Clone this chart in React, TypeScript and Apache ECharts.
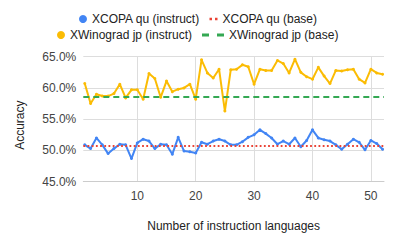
import React, { useEffect, useRef } from "react";
import * as echarts from "echarts";

const languageCounts = [
  1, 2, 3, 4, 5, 6, 7, 8, 9, 10, 11, 12, 13, 14, 15, 16, 17, 18, 19, 20, 21, 22, 23, 24, 25, 26,
  27, 28, 29, 30, 31, 32, 33, 34, 35, 36, 37, 38, 39, 40, 41, 42, 43, 44, 45, 46, 47, 48, 49, 50, 51, 52,
];

const xcopaInstruct = [
  50.9, 50.3, 52.0, 50.9, 49.5, 50.3, 51.0, 50.9, 48.7, 51.2, 51.8, 51.5, 50.3, 51.0, 50.9, 49.4, 52.1,
  49.9, 49.8, 49.6, 51.3, 51.0, 51.5, 51.8, 51.5, 50.9, 50.9, 51.4, 52.1, 52.5, 53.3, 52.7, 52.0, 51.0,
  51.5, 51.0, 52.0, 50.6, 51.6, 53.3, 52.0, 51.7, 51.5, 50.9, 50.2, 51.0, 51.8, 51.3, 50.1, 51.6, 51.1, 50.2,
];

const xwinogradInstruct = [
  60.7, 57.5, 59.0, 58.7, 58.7, 59.1, 60.6, 58.4, 59.7, 59.7, 58.2, 62.3, 61.5, 58.5, 61.1, 59.4, 59.8,
  60.0, 60.6, 58.2, 64.5, 62.4, 61.6, 63.0, 56.3, 62.9, 63.0, 63.7, 63.4, 60.6, 63.0, 62.8, 62.8, 64.4,
  63.9, 62.4, 64.6, 62.5, 61.8, 61.4, 63.3, 61.9, 60.7, 62.8, 62.7, 62.9, 63.0, 61.4, 60.8, 63.0, 62.4, 62.2,
];

const xcopaBase = 50.8;
const xwinogradBase = 58.6;

const yTicks = { min: 45, max: 65, interval: 5 };

const FONT = "'Liberation Sans', Arial, sans-serif";

export default function App() {
  const ref = useRef<HTMLDivElement>(null);

  useEffect(() => {
    if (!ref.current) return;
    const chart = echarts.init(ref.current, undefined, { renderer: "svg" });

    const pairs = (ys: number[]) => languageCounts.map((x, i) => [x, ys[i]]);

    const legendText = { fontFamily: FONT, fontSize: 12, color: "#222" };

    chart.setOption({
      animation: false,
      textStyle: { fontFamily: FONT },
      grid: { left: 83.3, right: 12, top: 56.7, bottom: 63.3, containLabel: false },
      legend: [
        {
          data: [{ name: "XCOPA qu (instruct)", icon: "circle" }],
          left: 79, top: 13, padding: 0, itemWidth: 8, itemHeight: 8, textStyle: legendText,
        },
        {
          data: [{ name: "XCOPA qu (base)", icon: "path://M0,0h2.5v2.5h-2.5zM5.5,0h2.5v2.5h-2.5z" }],
          left: 209.5, top: 13, padding: 0, itemWidth: 8, itemHeight: 8, textStyle: legendText,
        },
        {
          data: [{ name: "XWinograd jp (instruct)", icon: "circle" }],
          left: 57, top: 29, padding: 0, itemWidth: 8, itemHeight: 8, textStyle: legendText,
        },
        {
          data: [{ name: "XWinograd jp (base)", icon: "path://M0,0h7v3h-7zM15,0h7v3h-7z" }],
          left: 202, top: 29, padding: 0, itemWidth: 22, itemHeight: 8, textStyle: legendText,
        },
      ],
      xAxis: {
        type: "value",
        min: 0.75,
        max: 52.25,
        minInterval: 10,
        maxInterval: 10,
        name: "Number of instruction languages",
        nameLocation: "middle",
        nameGap: 38,
        nameTextStyle: { fontFamily: FONT, fontSize: 12, color: "#222" },
        axisLine: { show: true, lineStyle: { color: "#ccc", width: 1 } },
        axisTick: { show: false },
        axisLabel: {
          fontFamily: FONT,
          fontSize: 12,
          color: "#444",
          margin: 8,
          showMinLabel: false,
          showMaxLabel: false,
          formatter: (v: number) => (Math.abs(v % 10) < 1e-6 ? String(v) : ""),
        },
        splitLine: { show: true, showMinLine: false, showMaxLine: false, lineStyle: { color: "#ddd", width: 1 } },
      },
      yAxis: {
        type: "value",
        min: yTicks.min,
        max: yTicks.max,
        interval: yTicks.interval,
        name: "Accuracy",
        nameLocation: "middle",
        nameGap: 57,
        nameTextStyle: { fontFamily: FONT, fontSize: 12, color: "#222", padding: [0, 12, 0, 0] },
        axisLine: { show: false },
        axisTick: { show: false },
        axisLabel: {
          fontFamily: FONT,
          fontSize: 12,
          color: "#444",
          margin: 7,
          formatter: (v: number) => v.toFixed(1) + "%",
        },
        splitLine: { show: true, lineStyle: { color: "#ddd", width: 1 } },
      },
      series: [
        {
          name: "XCOPA qu (instruct)",
          type: "line",
          data: pairs(xcopaInstruct),
          color: "#4285F4",
          symbol: "circle",
          symbolSize: 3,
          lineStyle: { width: 2, color: "#4285F4" },
          itemStyle: { color: "#4285F4" },
          z: 3,
        },
        {
          name: "XCOPA qu (base)",
          type: "line",
          data: [],
          color: "#EA4335",
          itemStyle: { color: "#EA4335" },
          markLine: {
            silent: true,
            symbol: "none",
            label: { show: false },
            lineStyle: { color: "#EA4335", width: 1.8, type: [1.8, 2.4] },
            data: [{ yAxis: xcopaBase }],
          },
          z: 4,
        },
        {
          name: "XWinograd jp (instruct)",
          type: "line",
          data: pairs(xwinogradInstruct),
          color: "#FBBC04",
          symbol: "circle",
          symbolSize: 3,
          lineStyle: { width: 2, color: "#FBBC04" },
          itemStyle: { color: "#FBBC04" },
          z: 3,
        },
        {
          name: "XWinograd jp (base)",
          type: "line",
          data: [],
          color: "#34A853",
          itemStyle: { color: "#34A853" },
          markLine: {
            silent: true,
            symbol: "none",
            label: { show: false },
            lineStyle: { color: "#34A853", width: 2, type: [6, 4] },
            data: [{ yAxis: xwinogradBase }],
          },
          z: 4,
        },
      ],
    });

    return () => chart.dispose();
  }, []);

  return (
    <div
      ref={ref}
      style={{ position: "fixed", left: 0, top: 0, width: 396, height: 245, background: "#fff" }}
    />
  );
}
